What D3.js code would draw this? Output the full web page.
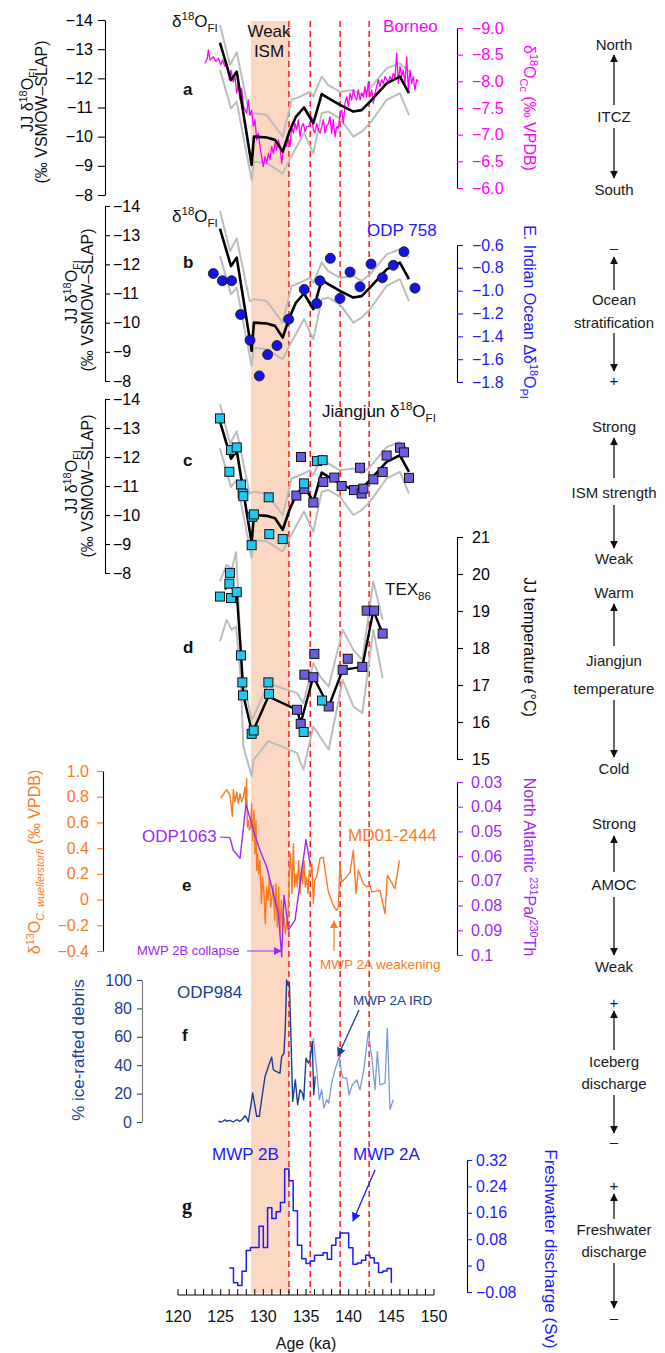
<!DOCTYPE html>
<html>
<head>
<meta charset="utf-8">
<script src="https://cdn.jsdelivr.net/npm/d3@7"></script>
<style>
body { margin: 0; background: #fff; }
svg text { font-family: "Liberation Sans", Arial, sans-serif; }
</style>
</head>
<body>
<svg width="665" height="1353"></svg>
<script>
// ---------- data ----------
// Jiangjun fluid inclusion d18O (panels a, b, c)
var jjAge  = [124.92,126.21,126.88,128.63,128.9,130.4,131.37,132.27,133.05,133.83,134.77,135.86,136.84,137.61,138.98,140.55,141.52,142.5,144.45,146.0,147.07];
var jjMean = [-13.22,-11.94,-12.23,-9.03,-10.0,-9.97,-9.89,-9.49,-10.17,-10.69,-11.0,-10.46,-11.46,-11.32,-11.09,-10.86,-10.91,-11.2,-11.83,-12.06,-11.49];
var jjHiAge = [124.92,126.1,126.88,128.4,128.9,130.4,132.27,133.3,134.3,135.5,135.86,136.84,137.61,138.98,140.55,141.52,142.5,144.45,146.0,147.07];
var jjHi    = [-13.83,-12.46,-12.89,-10.74,-10.8,-10.74,-10.0,-11.26,-11.37,-11.54,-11.37,-12.06,-11.77,-11.54,-11.6,-11.43,-11.66,-12.34,-12.52,-12.23];
var jjLoAge = [124.92,126.21,126.88,128.63,128.9,130.4,132.27,133.05,134.77,135.86,136.84,137.61,138.98,140.55,141.52,142.5,144.45,146.0,147.07];
var jjLo    = [-12.29,-10.97,-11.2,-8.51,-9.14,-9.09,-8.74,-9.2,-10.12,-9.43,-10.8,-10.86,-10.63,-10.0,-10.17,-10.46,-11.26,-11.49,-10.74];

// Borneo speleothem d18O (panel a)
var borneoAge = [123.16,123.44,123.55,123.75,124.14,124.45,124.73,125.0,125.23,125.51,125.7,126.02,126.21,126.48,126.68,126.88,127.07,127.27,127.46,127.66,128.05,128.24,128.44,128.63,128.83,129.02,129.22,129.41,129.61,129.8,130.0,130.2,130.39,130.59,130.78,130.98,131.17,131.37,131.56,131.76,131.95,132.15,132.34,132.54,132.73,132.93,133.13,133.32,133.52,133.71,133.91,134.1,134.3,134.49,134.69,134.88,135.08,135.27,135.47,135.66,135.86,136.05,136.25,136.45,136.64,136.84,137.03,137.23,137.42,137.62,137.81,138.01,138.2,138.4,138.59,138.79,138.98,139.18,139.38,139.57,139.77,139.96,140.16,140.35,140.55,140.74,140.94,141.13,141.33,141.52,141.72,141.91,142.11,142.3,142.5,142.7,142.89,143.09,143.28,143.48,143.67,143.87,144.06,144.26,144.45,144.65,144.84,145.04,145.23,145.43,145.63,145.82,146.02,146.21,146.41,146.6,146.8,146.99,147.19,147.38,147.58,147.77,147.97,148.16];
var borneoVal = [-8.34,-8.43,-8.59,-8.40,-8.46,-8.37,-8.43,-8.31,-8.40,-8.28,-8.34,-8.03,-8.21,-7.99,-8.09,-7.78,-7.96,-7.65,-7.87,-7.53,-7.40,-7.65,-7.37,-7.46,-7.15,-7.28,-6.90,-7.03,-6.78,-6.59,-6.40,-6.59,-6.46,-6.65,-6.53,-6.78,-6.65,-6.84,-6.71,-6.90,-6.78,-6.46,-6.71,-6.84,-6.78,-6.96,-6.78,-7.15,-7.03,-7.21,-7.09,-7.28,-6.96,-7.15,-7.21,-7.06,-7.15,-7.15,-7.21,-7.34,-7.09,-7.03,-7.21,-7.09,-7.03,-7.15,-7.28,-7.03,-7.15,-7.21,-7.34,-7.03,-7.28,-6.96,-7.15,-7.12,-7.40,-7.46,-7.21,-7.59,-7.71,-7.53,-7.78,-7.65,-7.84,-7.71,-7.65,-7.84,-7.65,-7.78,-7.71,-7.90,-7.71,-7.99,-7.71,-7.84,-7.59,-7.78,-7.90,-8.03,-7.90,-8.03,-7.96,-8.09,-8.03,-7.99,-8.09,-8.03,-8.15,-8.06,-8.53,-7.96,-8.28,-8.09,-8.21,-7.96,-8.46,-7.84,-8.21,-7.96,-8.09,-7.84,-8.03,-7.99];

// ODP 758 planktic d18O difference (panel b)
var odp758Age = [124.14,125.2,126.29,127.34,128.44,129.53,130.51,131.6,132.97,134.8,136.25,136.64,137.85,138.98,140.16,141.33,142.62,143.95,145.23,146.48,147.77];
var odp758Val = [-0.85,-0.913,-0.913,-1.209,-1.434,-1.747,-1.56,-1.481,-1.25,-0.989,-1.112,-0.913,-0.717,-1.068,-0.837,-0.966,-0.767,-0.887,-0.778,-0.659,-0.978];

// individual inclusion samples (panel c)
var fiCyanAge = [124.92,126.02,126.21,126.88,127.38,127.58,127.66,128.63,128.71,128.9,130.63,130.7,132.27,134.77,136.29,136.95];
var fiCyanVal = [-13.33,-11.49,-12.24,-12.33,-11.05,-10.74,-10.65,-8.96,-9.94,-10.02,-10.61,-9.34,-9.17,-11.09,-11.86,-11.89];
var fiBlueAge = [133.87,134.41,134.8,135.86,137.03,138.32,139.18,140.63,141.33,141.52,141.72,142.89,143.98,144.45,146.02,146.48,147.07];
var fiBlueVal = [-10.67,-12.0,-10.9,-10.43,-11.14,-11.29,-11.0,-10.86,-11.63,-10.74,-10.91,-11.23,-11.48,-12.05,-12.32,-12.16,-11.28];

// TEX86 temperature (panel d)
var texCyanAge = [124.92,126.02,126.09,126.21,126.88,127.38,127.54,127.62,128.63,128.87,130.59,130.67,134.73,136.88];
var texCyanVal = [19.39,19.74,20.03,19.35,19.51,17.8,17.07,16.72,15.68,15.77,17.07,16.76,15.73,16.58];
var texBlueAge = [133.95,134.38,134.81,135.86,135.98,137.66,139.3,139.89,141.6,142.11,142.97,143.98];
var texBlueVal = [16.33,15.95,17.28,17.21,17.84,16.42,17.41,17.71,17.49,19.01,19.01,18.39];
var texAge  = [125.5,126.09,126.48,126.88,127.38,127.66,128.63,128.87,130.59,133.95,134.38,135.86,136.64,137.66,139.3,141.6,142.89,143.98];
var texMean = [19.58,19.76,19.58,19.51,17.83,16.72,15.77,15.79,16.69,16.33,15.97,17.23,16.87,16.42,17.41,17.49,19.01,18.39];
var texBandAge = [124.92,125.7,126.29,126.8,127.34,127.66,128.63,128.87,130.59,132.15,133.95,134.69,135.86,136.64,137.66,139.3,140.55,141.6,142.89,143.98];
var texHi = [19.8,20.25,20.12,20.59,18.04,17.14,16.06,16.15,17.05,16.92,16.78,16.51,17.59,17.23,16.96,18.49,17.95,17.68,19.8,18.76];
var texLo = [18.18,18.76,18.49,18.58,17.23,15.34,14.53,14.98,15.48,15.34,15.16,14.71,15.88,15.61,15.25,17.14,16.42,16.24,18.49,17.19];

// MD01-2444 benthic d13C (panel e)
var md01Age = [125.0,125.7,126.09,126.37,126.48,126.68,126.88,127.07,127.27,127.46,127.66,127.85,127.97,128.05,128.13,128.24,128.36,128.52,128.63,128.75,128.91,129.02,129.14,129.22,129.34,129.45,129.61,129.77,129.92,130.08,130.23,130.39,130.55,130.7,130.86,131.02,131.17,131.33,131.48,131.64,131.8,131.95,132.11,132.27,132.42,132.58,132.73,132.89,133.05,133.2,133.36,133.52,133.67,133.83,133.98,134.14,134.3,134.45,134.61,134.77,134.92,135.08,135.23,135.39,135.55,135.7,135.86,136.02,136.25,136.64,137.03,137.23,137.62,138.2,138.59,138.79,138.98,139.18,139.77,140.16,140.55,140.86,141.13,141.72,142.11,142.5,142.7,143.67,144.26,144.53,145.43,145.94];
var md01Val = [0.79,0.855,0.81,0.647,0.855,0.76,0.837,0.746,0.824,0.76,0.80,0.876,0.72,0.94,0.565,0.616,0.54,0.565,0.746,0.46,0.694,0.357,0.616,0.228,0.357,0.20,0.305,-0.03,0.176,0.046,-0.187,0.098,-0.006,0.176,-0.058,0.02,0.11,-0.16,0.124,-0.213,0.098,-0.265,-0.006,-0.213,-0.135,-0.265,-0.187,-0.135,0.228,0.357,0.046,0.435,0.098,0.20,0.098,0.305,0.046,0.253,0.124,0.305,0.098,0.176,0.046,0.228,0.20,0.28,-0.03,0.15,0.176,0.318,0.33,0.228,0.06,-0.045,-0.083,-0.058,0.28,0.137,0.176,0.215,0.383,0.046,0.228,0.124,0.098,0.11,0.06,0.072,-0.11,0.19,0.085,0.305];

// ODP1063 Pa/Th (panel e)
var odp1063Age = [126.09,126.48,127.27,127.97,128.83,129.61,130.39,130.98,131.76,132.15,132.42,132.66,132.93,133.71,134.3,135.0,135.47];
var odp1063Val = [0.0525,0.0576,0.0609,0.039,0.0495,0.0576,0.0643,0.0724,0.0832,0.1007,0.0758,0.0818,0.0899,0.0859,0.071,0.0533,0.063];

// ODP984 ice-rafted debris (panel f)
var irdDarkAge = [124.73,125.12,125.51,125.7,126.09,126.48,126.88,127.27,127.58,127.85,128.05,128.24,128.75,129.22,129.53,129.8,130.2,130.59,130.98,131.17,131.48,131.95,132.15,132.42,132.58,132.73,132.89,133.05,133.2,133.44,133.75,134.02,134.3,134.57,134.73,135.0,135.27,135.47,135.74,135.9,136.09];
var irdDarkVal = [0.5,0,1.6,0.5,1.2,0,1.6,0.5,2.1,4.4,2.8,0,20.4,4.0,4.0,15.7,32.1,39.1,45.7,36.8,35.6,34.4,46.1,48.5,67.2,100,96.5,98.1,67.2,14.5,29.7,12.2,22.7,20.4,15.7,45.0,41.5,43.8,56.7,19.2,32.1];
var irdLightAge = [135.86,136.25,136.56,136.84,137.11,137.42,137.66,138.01,138.4,138.91,139.18,139.38,139.77,140.04,140.43,140.94,141.33,141.8,142.3,142.7,143.09,143.36,143.67,144.26,144.53,144.84,145.23];
var irdLightVal = [59.0,36.8,15.7,22.7,9.8,15.7,13.3,27.4,36.8,46.1,34.4,30.9,30.9,19.2,26.2,29.7,22.7,37.9,63.7,46.1,22.7,49.6,26.2,27.4,66.0,8.7,15.7];

// modelled freshwater discharge (panel g), step starts
var fwAge = [126.0,126.5,127.0,127.5,128.0,128.5,129.0,129.5,130.0,130.5,131.0,131.5,132.0,132.5,133.0,133.5,134.0,134.5,135.0,135.5,136.0,136.5,137.0,137.5,138.0,138.5,139.0,139.5,140.0,140.5,141.0,141.5,142.0,142.5,143.0,143.5,144.0,144.5,145.0];
var fwVal = [-0.007,-0.052,-0.06,-0.017,0.046,0.055,0.055,0.119,0.055,0.175,0.143,0.163,0.191,0.293,0.257,0.166,0.062,0.021,0.006,0.014,0.031,0.031,0.039,0.019,0.062,0.084,0.099,0.099,0.054,0.004,0.008,0.016,0.031,0.024,0.008,-0.021,-0.016,-0.009,-0.053];

var weakIsm = [128.55, 133.0];
var eventAges = [133.0, 135.5, 139.0, 142.4];

// tick values
var ticksJJ = [-14,-13,-12,-11,-10,-9,-8];
var ticksBorneo = [-9,-8.5,-8,-7.5,-7,-6.5,-6];
var ticks758 = [-0.6,-0.8,-1.0,-1.2,-1.4,-1.6,-1.8];
var ticksTemp = [15,16,17,18,19,20,21];
var ticksD13 = [-0.4,-0.2,0,0.2,0.4,0.6,0.8,1.0];
var ticksPaTh = [0.03,0.04,0.05,0.06,0.07,0.08,0.09,0.1];
var ticksIrd = [0,20,40,60,80,100];
var ticksFw = [-0.08,0,0.08,0.16,0.24,0.32];
var ageMajor = [120,125,130,135,140,145,150];
var ageMinor = [120,121,122,123,124,125,126,127,128,129,130,131,132,133,134,135,136,137,138,139,140,141,142,143,144,145,146,147,148,149,150];

// ---------- colours ----------
var MAGENTA = "#ff00ff", BLUE = "#1a1aff", ORANGE = "#fa7a22", PURPLE = "#9a2cf2",
    NAVY = "#1a3d96", LIGHTNAVY = "#7d9ad4", GREY = "#bdbdbd", CYAN = "#22c6ee", SLATE = "#6b5ce0";

var svg = d3.select("svg");
var defs = svg.append("defs");

function zip(a, b){ return a.map(function(v, i){ return [v, b[i]]; }); }

// ---------- scales ----------
var x = d3.scaleLinear().domain([120, 150]).range([178, 434]);
var yA = d3.scaleLinear().domain([-14, -8]).range([20, 195]);
var yBorneo = d3.scaleLinear().domain([-9, -6]).range([28, 188]);
var yB = d3.scaleLinear().domain([-14, -8]).range([206, 381]);
var y758 = d3.scaleLinear().domain([-0.6, -1.8]).range([245, 382]);
var yC = d3.scaleLinear().domain([-14, -8]).range([399, 573]);
var yD = d3.scaleLinear().domain([15, 21]).range([759, 537]);
var yE = d3.scaleLinear().domain([-0.4, 1.0]).range([951, 771]);
var yPa = d3.scaleLinear().domain([0.03, 0.1]).range([782, 955]);
var yF = d3.scaleLinear().domain([0, 100]).range([1122, 980]);
var yG = d3.scaleLinear().domain([-0.08, 0.32]).range([1292, 1160]);

// ---------- helpers ----------
function marker(id, color, size){
  defs.append("marker").attr("id", id)
    .attr("viewBox", "0 0 10 10").attr("refX", 9).attr("refY", 5)
    .attr("markerWidth", size).attr("markerHeight", size)
    .attr("markerUnits", "userSpaceOnUse").attr("orient", "auto")
    .append("path").attr("d", "M0,0L10,5L0,10z").attr("fill", color);
}
marker("ahBlack", "#111", 8);
marker("ahPurple", PURPLE, 8);
marker("ahOrange", ORANGE, 8);
marker("ahNavy", NAVY, 9);
marker("ahBlue", BLUE, 9);

function arrow(x1, y1, x2, y2, color, id, w){
  svg.append("line").attr("x1", x1).attr("y1", y1).attr("x2", x2).attr("y2", y2)
    .attr("stroke", color).attr("stroke-width", w || 1.3)
    .attr("marker-end", "url(#" + id + ")");
}

// text with super/subscripts; parts are strings or [string, "sup"|"sub"|"subit"]
function rtext(px, py, parts, o){
  var fs = o.fs || 17;
  var t = svg.append("text").attr("fill", o.color || "#111")
    .style("font-size", fs + "px")
    .attr("text-anchor", o.anchor || "start");
  if (o.rot) t.attr("transform", "translate(" + px + "," + py + ") rotate(" + o.rot + ")");
  else t.attr("x", px).attr("y", py);
  if (o.bold) t.style("font-weight", "bold");
  if (o.family) t.style("font-family", o.family);
  var shift = 0;
  parts.forEach(function(p){
    var s = typeof p === "string" ? p : p[0];
    var k = typeof p === "string" ? "" : p[1];
    var size = fs, target = 0;
    if (k.indexOf("sup") >= 0){ size = fs * 0.68; target = -0.4 * fs; }
    if (k.indexOf("sub") >= 0){ size = fs * 0.68; target = 0.28 * fs; }
    var ts = t.append("tspan").attr("dy", target - shift).style("font-size", size + "px").text(s);
    if (k.indexOf("it") >= 0) ts.style("font-style", "italic");
    shift = target;
  });
  return t;
}

function yAxis(scale, xpos, side, o){
  var ax = (side === "left" ? d3.axisLeft : d3.axisRight)(scale)
    .tickValues(o.ticks).tickSize(o.size || 6).tickSizeOuter(0)
    .tickPadding(o.pad || 4).tickFormat(o.fmt);
  var g = svg.append("g").attr("transform", "translate(" + xpos + ",0)").call(ax);
  g.select(".domain").attr("stroke", o.line || "#000").attr("stroke-width", 1.1);
  g.selectAll(".tick line").attr("stroke", o.tick || "#000").attr("stroke-width", 1.1);
  g.selectAll(".tick text").attr("fill", o.color || "#000")
    .style("font-size", (o.fs || 16) + "px")
    .style("font-family", "'Liberation Sans', Arial, sans-serif");
  return g;
}

function path(data, ys, color, width, curve){
  var line = d3.line().x(function(d){ return x(d[0]); }).y(function(d){ return ys(d[1]); });
  if (curve) line.curve(curve);
  svg.append("path").datum(data).attr("d", line)
    .attr("fill", "none").attr("stroke", color).attr("stroke-width", width)
    .attr("stroke-linejoin", "round");
}

function squares(data, ys, color){
  svg.append("g").selectAll("rect").data(data).enter().append("rect")
    .attr("x", function(d){ return x(d[0]) - 4.5; })
    .attr("y", function(d){ return ys(d[1]) - 4.5; })
    .attr("width", 9).attr("height", 9)
    .attr("fill", color).attr("stroke", "#111").attr("stroke-width", 1);
}

// ---------- background: weak ISM band + events ----------
svg.append("rect").attr("x", x(weakIsm[0])).attr("y", 21)
  .attr("width", x(weakIsm[1]) - x(weakIsm[0])).attr("height", 1293 - 21)
  .attr("fill", "#fbd8c3");
svg.selectAll(".event").data(eventAges).enter().append("line")
  .attr("class", "event")
  .attr("x1", function(d){ return x(d); }).attr("x2", function(d){ return x(d); })
  .attr("y1", 21).attr("y2", 1293)
  .attr("stroke", "#ff1a1a").attr("stroke-width", 1.5).attr("stroke-dasharray", "6,4");

var fmtInt = d3.format("d");
var fmt1 = d3.format(".1f");

// ---------- panel a ----------
yAxis(yA, 105, "left", {ticks: ticksJJ, fmt: fmtInt, size: 7, pad: 5});
yAxis(yBorneo, 457, "right", {ticks: ticksBorneo, fmt: fmt1, tick: MAGENTA, color: MAGENTA, pad: 9});
path(zip(jjHiAge, jjHi), yA, GREY, 2);
path(zip(jjLoAge, jjLo), yA, GREY, 2);
path(zip(borneoAge, borneoVal), yBorneo, MAGENTA, 1.3);
path(zip(jjAge, jjMean), yA, "#000", 2.6);
rtext(33, 100, ["JJ δ", ["18", "sup"], "O", ["FI", "sub"]], {rot: -90, anchor: "middle", fs: 16});
rtext(47, 112, ["(‰ VSMOW–SLAP)"], {rot: -90, anchor: "middle", fs: 16});
rtext(524, 108, ["δ", ["18", "sup"], "O", ["Cc", "sub"], " (‰ VPDB)"], {rot: 90, anchor: "middle", color: MAGENTA, fs: 16});
rtext(172, 27, ["δ", ["18", "sup"], "O", ["FI", "sub"]], {});
rtext(269, 37, ["Weak"], {anchor: "middle"});
rtext(269, 57, ["ISM"], {anchor: "middle"});
rtext(383, 32, ["Borneo"], {color: MAGENTA});
rtext(183, 95, ["a"], {bold: true});

// ---------- panel b ----------
yAxis(yB, 105, "right", {ticks: ticksJJ, fmt: fmtInt, size: 5, pad: 3});
yAxis(y758, 457, "right", {ticks: ticks758, fmt: fmt1, tick: BLUE, color: BLUE, pad: 9});
path(zip(jjHiAge, jjHi), yB, GREY, 2);
path(zip(jjLoAge, jjLo), yB, GREY, 2);
path(zip(jjAge, jjMean), yB, "#000", 2.6);
svg.append("g").selectAll("circle").data(zip(odp758Age, odp758Val)).enter().append("circle")
  .attr("cx", function(d){ return x(d[0]); }).attr("cy", function(d){ return y758(d[1]); })
  .attr("r", 5).attr("fill", "#1414e6").attr("stroke", "#111").attr("stroke-width", 0.8);
rtext(77, 292, ["JJ δ", ["18", "sup"], "O", ["FI", "sub"]], {rot: -90, anchor: "middle", fs: 16});
rtext(93, 300, ["(‰ VSMOW–SLAP)"], {rot: -90, anchor: "middle", fs: 16});
rtext(524, 312, ["E. Indian Ocean Δδ", ["18", "sup"], "O", ["PI", "sub"]], {rot: 90, anchor: "middle", color: BLUE, fs: 16});
rtext(172, 222, ["δ", ["18", "sup"], "O", ["FI", "sub"]], {});
rtext(367, 236, ["ODP 758"], {color: BLUE});
rtext(183, 268, ["b"], {bold: true});

// ---------- panel c ----------
yAxis(yC, 105, "right", {ticks: ticksJJ, fmt: fmtInt, size: 5, pad: 3});
path(zip(jjHiAge, jjHi), yC, GREY, 2);
path(zip(jjLoAge, jjLo), yC, GREY, 2);
path(zip(jjAge, jjMean), yC, "#000", 2.6);
squares(zip(fiBlueAge, fiBlueVal), yC, SLATE);
squares(zip(fiCyanAge, fiCyanVal), yC, CYAN);
rtext(77, 482, ["JJ δ", ["18", "sup"], "O", ["FI", "sub"]], {rot: -90, anchor: "middle", fs: 16});
rtext(93, 486, ["(‰ VSMOW–SLAP)"], {rot: -90, anchor: "middle", fs: 16});
rtext(322, 417, ["Jiangjun δ", ["18", "sup"], "O", ["FI", "sub"]], {});
rtext(183, 466, ["c"], {bold: true});

// ---------- panel d ----------
yAxis(yD, 457, "right", {ticks: ticksTemp, fmt: fmtInt, pad: 9});
path(zip(texBandAge, texHi), yD, GREY, 2);
path(zip(texBandAge, texLo), yD, GREY, 2);
path(zip(texAge, texMean), yD, "#000", 2.4);
squares(zip(texBlueAge, texBlueVal), yD, SLATE);
squares(zip(texCyanAge, texCyanVal), yD, CYAN);
rtext(524, 647, ["JJ temperature (°C)"], {rot: 90, anchor: "middle", fs: 16});
rtext(385, 595, ["TEX", ["86", "sub"]], {});
rtext(183, 653, ["d"], {bold: true});

// ---------- panel e ----------
yAxis(yE, 103, "left", {ticks: ticksD13, fmt: function(d){ return d === 0 ? "0" : fmt1(d); }, tick: ORANGE, color: ORANGE, pad: 8});
yAxis(yPa, 457, "right", {ticks: ticksPaTh, fmt: function(d){ return d === 0.1 ? "0.1" : d3.format(".2f")(d); }, tick: PURPLE, color: PURPLE, pad: 8});
path(zip(md01Age, md01Val), yE, ORANGE, 1.4);
path(zip(odp1063Age, odp1063Val), yPa, PURPLE, 1.4);
svg.append("line").attr("x1", 220).attr("y1", 837).attr("x2", x(odp1063Age[0])).attr("y2", yPa(odp1063Val[0]))
  .attr("stroke", PURPLE).attr("stroke-width", 1.2);
rtext(40, 862, ["δ", ["13", "sup"], "O", ["C. wuellerstorfi", "subit"], " (‰ VPDB)"], {rot: -90, anchor: "middle", color: ORANGE, fs: 16});
rtext(524, 867, ["North Atlantic ", ["231", "sup"], "Pa/", ["230", "sup"], "Th"], {rot: 90, anchor: "middle", color: PURPLE, fs: 16});
rtext(142, 842, ["ODP1063"], {color: PURPLE});
rtext(348, 841, ["MD01-2444"], {color: ORANGE});
rtext(182, 891, ["e"], {bold: true});
rtext(137, 955, ["MWP 2B collapse"], {color: PURPLE, fs: 13});
arrow(247, 951, 281, 951, PURPLE, "ahPurple", 1.2);
arrow(334, 951, 334, 921, ORANGE, "ahOrange", 1.2);
rtext(320, 969, ["MWP 2A weakening"], {color: ORANGE, fs: 13.5});

// ---------- panel f ----------
yAxis(yF, 142, "left", {ticks: ticksIrd, fmt: fmtInt, line: "#777", tick: NAVY, color: NAVY, size: 5, pad: 5});
path(zip(irdLightAge, irdLightVal), yF, LIGHTNAVY, 1.3);
path(zip(irdDarkAge, irdDarkVal), yF, NAVY, 1.4);
rtext(84, 1050, ["% ice-rafted debris"], {rot: -90, anchor: "middle", color: NAVY});
rtext(177, 998, ["ODP984"], {color: NAVY});
rtext(182, 1041, ["f"], {bold: true});
rtext(353, 1005, ["MWP 2A IRD"], {color: NAVY, fs: 13.5});
arrow(359, 1010, 338, 1056, NAVY, "ahNavy", 1.3);

// ---------- panel g ----------
yAxis(yG, 467, "right", {ticks: ticksFw, fmt: function(d){ return d === 0 ? "0" : d3.format(".2f")(d); }, tick: BLUE, color: BLUE, size: 5, pad: 4});
path(zip(fwAge, fwVal), yG, BLUE, 1.5, d3.curveStepAfter);
rtext(545, 1249, ["Freshwater discharge (Sv)"], {rot: 90, anchor: "middle", color: BLUE});
rtext(212, 1160, ["MWP 2B"], {color: BLUE});
rtext(353, 1160, ["MWP 2A"], {color: BLUE});
arrow(375, 1170, 353, 1221, BLUE, "ahBlue", 1.3);
rtext(182, 1213, ["g"], {bold: true, fs: 20, family: "'Liberation Serif', serif"});

// ---------- age axis ----------
var xg = svg.append("g").attr("transform", "translate(0,1295)");
xg.append("line").attr("x1", x(120)).attr("x2", x(150)).attr("stroke", "#000").attr("stroke-width", 1.1);
xg.selectAll(".mt").data(ageMinor).enter().append("line")
  .attr("x1", function(d){ return x(d); }).attr("x2", function(d){ return x(d); })
  .attr("y1", -6).attr("y2", 0).attr("stroke", "#000").attr("stroke-width", 1);
xg.selectAll(".lab").data(ageMajor).enter().append("text")
  .attr("x", function(d){ return x(d); }).attr("y", 27).attr("text-anchor", "middle")
  .style("font-size", "16px").attr("fill", "#111").text(function(d){ return d; });
rtext(306, 1349, ["Age (ka)"], {anchor: "middle", fs: 16});

// ---------- right-hand interpretation column ----------
var cx = 614;
var colLabels = [
  ["North", 45], ["ITCZ", 117], ["South", 190],
  ["–", 248], ["Ocean", 300], ["stratification", 323], ["+", 381],
  ["Strong", 427], ["ISM strength", 493], ["Weak", 559],
  ["Warm", 593], ["Jiangjun", 661], ["temperature", 689], ["Cold", 769],
  ["Strong", 824], ["AMOC", 885], ["Weak", 967],
  ["+", 1003], ["Iceberg", 1062], ["discharge", 1084], ["–", 1142],
  ["+", 1186], ["Freshwater", 1230], ["discharge", 1252], ["–", 1318]
];
colLabels.forEach(function(l){
  rtext(cx, l[1] + 5, [l[0]], {anchor: "middle", fs: 15, color: "#1a1a1a"});
});
var colArrows = [
  [105, 55], [128, 178],
  [290, 257], [333, 371],
  [478, 438], [505, 548],
  [646, 604], [700, 757],
  [872, 836], [897, 955],
  [1050, 1011], [1095, 1133],
  [1219, 1194], [1263, 1308]
];
colArrows.forEach(function(a){ arrow(cx, a[0], cx, a[1], "#111", "ahBlack", 1.3); });
</script>
</body>
</html>
